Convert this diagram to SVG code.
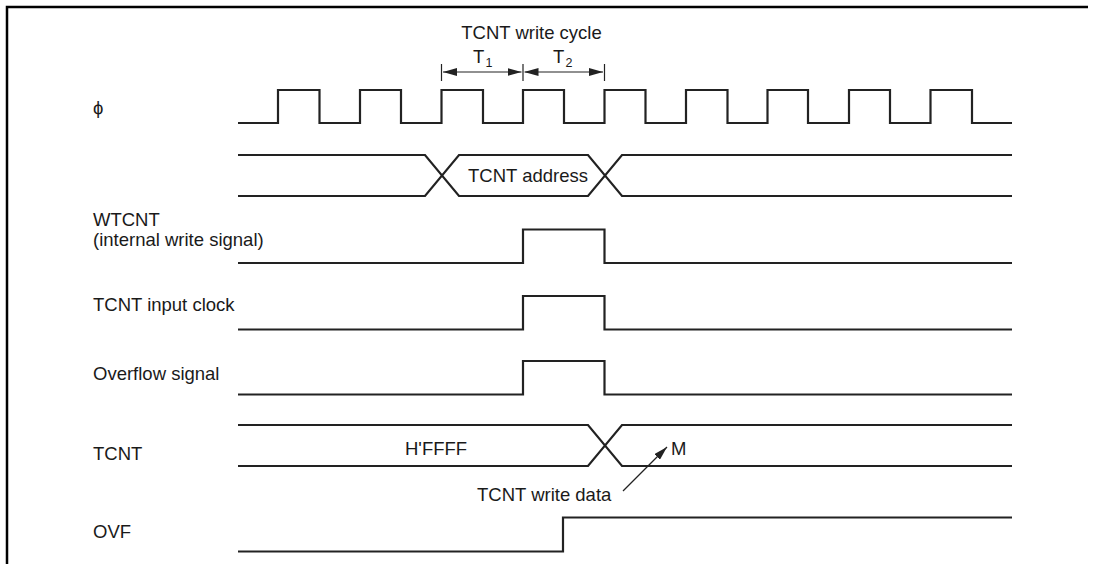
<svg xmlns="http://www.w3.org/2000/svg" width="1094" height="564" viewBox="0 0 1094 564">
<style>
  .frame { fill: none; stroke: #000; stroke-width: 2.5; }
  .sig { fill: none; stroke: #222; stroke-width: 2.2; stroke-linejoin: miter; }
  .thin { fill: none; stroke: #222; stroke-width: 1.2; }
  .lbl { font-family: "Liberation Sans", Arial, sans-serif; font-size: 18.5px; fill: #1a1a1a; }
  .sub { font-family: "Liberation Sans", Arial, sans-serif; font-size: 12.5px; fill: #1a1a1a; }
</style>
<defs>
  <marker id="ah" markerUnits="userSpaceOnUse" markerWidth="14" markerHeight="8" refX="14" refY="4" orient="auto-start-reverse">
    <path d="M0,0 L14,4 L0,8 z" fill="#222"/>
  </marker>
</defs>
<rect width="1094" height="564" fill="#fff"/>
<path class="frame" d="M7,564 V7 H1088"/>

<g id="labels">
  <text class="lbl" x="93" y="114" font-size="17">ϕ</text>
  <text class="lbl" x="93" y="226">WTCNT</text>
  <text class="lbl" x="93" y="246">(internal write signal)</text>
  <text class="lbl" x="93" y="311">TCNT input clock</text>
  <text class="lbl" x="93" y="380">Overflow signal</text>
  <text class="lbl" x="93" y="460">TCNT</text>
  <text class="lbl" x="93" y="538">OVF</text>
</g>

<g id="cycle">
  <text class="lbl" x="531.5" y="39" text-anchor="middle">TCNT write cycle</text>
  <text class="lbl" x="473" y="63">T</text><text class="sub" x="485.5" y="67">1</text>
  <text class="lbl" x="553" y="63">T</text><text class="sub" x="565.5" y="67">2</text>
  <path class="thin" d="M441.5,64 V81 M523,64 V81 M604.5,64 V81"/>
</g>

<g id="phi">
  <path class="sig" d="M238,123 H278 V90 H319.5 V123 H360 V90 H401 V123 H441.5 V90 H483 V123 H523 V90 H564 V123 H604.5 V90 H645.5 V123 H686 V90 H727.5 V123 H767.5 V90 H808 V123 H849 V90 H890 V123 H930.5 V90 H972 V123 H1012"/>
</g>

<g id="address">
  <path class="sig" d="M238,155 H425 L459,196 H588 L622,155 H1012"/>
  <path class="sig" d="M238,196 H425 L459,155 H588 L622,196 H1012"/>
  <text class="lbl" x="528" y="182" text-anchor="middle">TCNT address</text>
</g>

<g id="wtcnt">
  <path class="sig" d="M238,263 H523 V229.5 H604.5 V263 H1012"/>
</g>

<g id="inputclock">
  <path class="sig" d="M238,329.5 H523 V296 H604.5 V329.5 H1012"/>
</g>

<g id="overflow">
  <path class="sig" d="M238,394.5 H523 V361 H604.5 V394.5 H1012"/>
</g>

<g id="tcnt">
  <path class="sig" d="M238,425 H588 L622,466 H1012"/>
  <path class="sig" d="M238,466 H588 L622,425 H1012"/>
  <text class="lbl" x="405" y="455">H'FFFF</text>
  <text class="lbl" x="671" y="455">M</text>
  <text class="lbl" x="477" y="501">TCNT write data</text>
</g>

<g id="ovf">
  <path class="sig" d="M238,551.5 H563 V517.5 H1012"/>
</g>

<g id="connectors">
  <line class="thin" x1="443" y1="72" x2="521.5" y2="72" marker-start="url(#ah)" marker-end="url(#ah)"/>
  <line class="thin" x1="524.5" y1="72" x2="603" y2="72" marker-start="url(#ah)" marker-end="url(#ah)"/>
  <line class="thin" x1="623" y1="491" x2="667" y2="447" marker-end="url(#ah)"/>
</g>
</svg>
